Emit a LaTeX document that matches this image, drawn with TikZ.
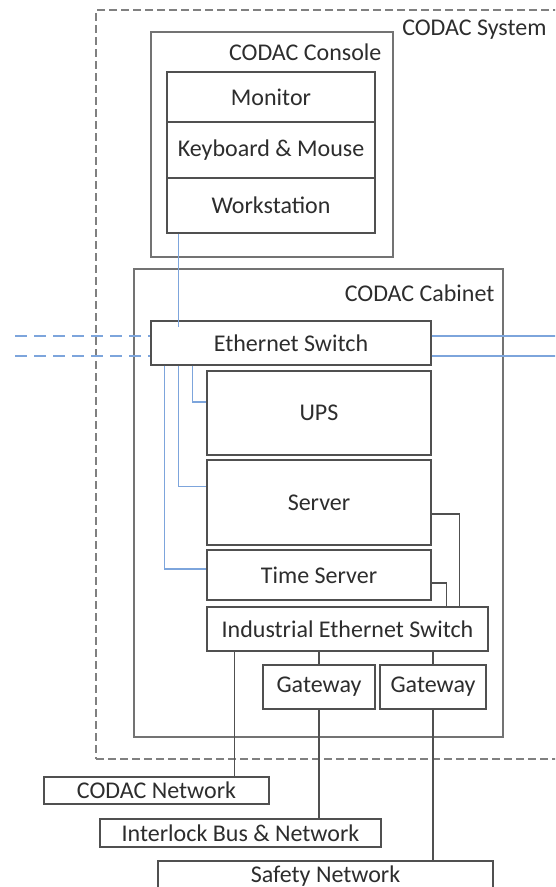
\documentclass[tikz,border=0pt]{standalone}
\usepackage{fontspec}
\setmainfont{Carlito}
\usetikzlibrary{calc}
\definecolor{lnblue}{RGB}{125,165,220}
\definecolor{boxgray}{RGB}{80,80,80}
\definecolor{txtgray}{RGB}{45,45,45}
\begin{document}
\begin{tikzpicture}[x=1pt,y=-1pt,
  txt/.style={font=\fontsize{24}{28}\selectfont, text=txtgray},
  box/.style={txt, draw=boxgray, line width=1.3pt, fill=white, inner sep=0pt},
  frame/.style={draw=black!55, line width=1.8pt, inner sep=0pt},
  sysframe/.style={draw=black!50, line width=1.8pt, dash pattern=on 8pt off 4pt, inner sep=0pt},
  bl/.style={draw=lnblue, line width=1.4pt},
  bldash/.style={draw=lnblue, line width=1.4pt, dash pattern=on 12pt off 7pt},
  gl/.style={draw=boxgray, line width=1.3pt}
]
\useasboundingbox (0,0) rectangle (555,887);
\clip (0,0) rectangle (555,887);

% frames
\node[sysframe, minimum width=524, minimum height=749] (sys) at (358,384.5) {};
\node[txt, anchor=east] (syslbl) at (550,30) {CODAC System};
\node[frame, minimum width=242, minimum height=225] (con) at (272,144.5) {};
\node[txt, anchor=east] (conlbl) at (385,52) {CODAC Console};
\node[frame, minimum width=369, minimum height=468] (cab) at (318.5,503) {};
\node[txt, anchor=east] (cablbl) at (498,293) {CODAC Cabinet};

% console stack
\node[box, minimum width=208, minimum height=50] (mon) at (271,97) {Monitor};
\node[box, minimum width=208, minimum height=56] (kbd) at (271,150) {Keyboard \& Mouse};
\node[box, minimum width=208, minimum height=55] (ws) at (271,205.5) {Workstation};

% cabinet contents
\node[box, minimum width=280, minimum height=44] (sw) at (291,343) {Ethernet Switch};
\node[box, minimum width=224, minimum height=84] (ups) at (319,413) {UPS};
\node[box, minimum width=224, minimum height=85] (srv) at (319,502.5) {Server};
\node[box, minimum width=224, minimum height=50] (ts) at (319,575) {Time Server};
\node[box, minimum width=281, minimum height=44] (isw) at (347.5,629) {Industrial Ethernet Switch};
\node[box, minimum width=112, minimum height=44] (gw1) at (319,687) {Gateway};
\node[box, minimum width=106, minimum height=44] (gw2) at (433,687) {Gateway};

% external networks
\node[box, minimum width=225, minimum height=27] (cn) at (156.5,790.5) {CODAC Network};
\node[box, minimum width=281, minimum height=28] (ib) at (240.5,833) {Interlock Bus \& Network};
\node[box, minimum width=335, minimum height=30] (sn) at (325.5,876) {Safety Network};

% blue connectors
\draw[bl] ([xshift=12]ws.south west) -- ([xshift=28,yshift=-7]sw.north west);
\draw[bl] ([xshift=42]sw.south west) |- ([yshift=11]ups.west);
\draw[bl] ([xshift=28]sw.south west) |- ([yshift=16]srv.west);
\draw[bl] ([xshift=14]sw.south west) |- ([yshift=6]ts.west);
\coordinate (l1) at (15,336);
\coordinate (l2) at (15,356);
\coordinate (r1) at (560,336);
\coordinate (r2) at (560,356);
\draw[bldash] (l1) -- (l1 -| sw.west);
\draw[bldash] (l2) -- (l2 -| sw.west);
\draw[bl] (r1 -| sw.east) -- (r1);
\draw[bl] (r2 -| sw.east) -- (r2);

% gray connectors
\draw[gl] ([yshift=-11.5]srv.east) -| ([xshift=-29]isw.north east);
\draw[gl] ([yshift=-8]ts.east) -| ([xshift=-42]isw.north east);
\draw[gl] ([xshift=28]isw.south west) -- ([xshift=28]isw.south west |- cn.north);
\draw[gl] (isw.south -| gw1.north) -- (gw1.north);
\draw[gl] (isw.south -| gw2.north) -- (gw2.north);
\draw[gl] (gw1.south) -- (gw1.south |- ib.north);
\draw[gl] (gw2.south) -- (gw2.south |- sn.north);
\end{tikzpicture}
\end{document}
